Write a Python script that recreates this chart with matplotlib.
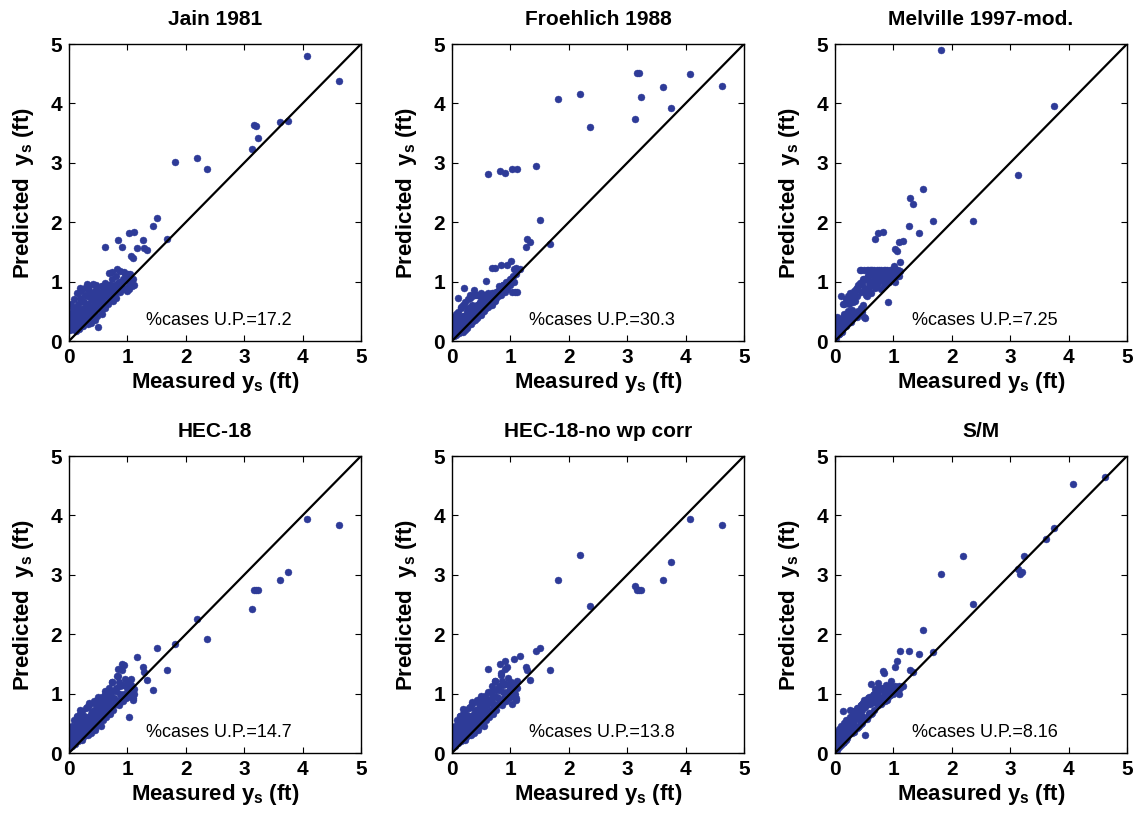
import numpy as np
import matplotlib
matplotlib.use("Agg")
import matplotlib.pyplot as plt

plt.rcParams["font.family"] = ["Liberation Sans", "DejaVu Sans"]
plt.rcParams["mathtext.fontset"] = "custom"
plt.rcParams["mathtext.rm"] = "Liberation Sans:bold"
plt.rcParams["mathtext.it"] = "Liberation Sans:bold"
plt.rcParams["mathtext.bf"] = "Liberation Sans:bold"

nan = np.nan

# Measured scour depth (ft), shared by all six methods
measured = [
    0.01, 0.02, 0.03, 0.03, 0.05, 0.06, 0.07, 0.08, 0.09, 0.10,
    0.11, 0.12, 0.13, 0.14, 0.15, 0.16, 0.17, 0.18, 0.19, 0.20,
    0.21, 0.22, 0.23, 0.24, 0.25, 0.26, 0.27, 0.28, 0.29, 0.30,
    0.31, 0.32, 0.33, 0.34, 0.35, 0.36, 0.37, 0.38, 0.39, 0.40,
    0.41, 0.42, 0.43, 0.44, 0.45, 0.46, 0.47, 0.48, 0.49, 0.50,
    0.51, 0.52, 0.54, 0.55, 0.56, 0.57, 0.58, 0.59, 0.60, 0.62,
    0.63, 0.64, 0.66, 0.67, 0.69, 0.70, 0.72, 0.73, 0.75, 0.76,
    0.78, 0.79, 0.81, 0.83, 0.85, 0.86, 0.88, 0.89, 0.92, 0.93,
    0.95, 0.97, 0.99, 1.00, 1.02, 1.04, 1.06, 1.08, 1.09, 1.11,
    0.61, 0.68, 0.74, 0.82, 0.84, 0.91, 0.94, 1.01, 1.03, 1.07,
    1.10, 1.12, 1.16, 1.26, 1.28, 1.34, 1.44,
    1.50, 1.67, 1.81, 2.20, 2.36, 3.14, 3.17, 3.20, 3.24, 3.61,
    3.75, 4.08, 4.62,
    0.02, 0.04, 0.05, 0.07, 0.09, 0.11, 0.13, 0.15, 0.17, 0.19,
    0.21, 0.23, 0.25, 0.27, 0.29, 0.31, 0.33, 0.35, 0.37, 0.39,
    0.42, 0.44, 0.46, 0.48, 0.50, 0.53, 0.56, 0.59, 0.62, 0.65,
    0.68, 0.71, 0.74, 0.77, 0.80, 0.84, 0.87, 0.91, 0.96, 1.03,
]

pred_jain = [
    0.25, 0.18, 0.35, 0.42, 0.22, 0.30, 0.55, 0.20, 0.38, 0.28,
    0.55, 0.16, 0.33, 0.45, 0.26, 0.62, 0.20, 0.40, 0.90, 0.50,
    0.30, 0.68, 0.42, 0.25, 0.55, 0.36, 0.78, 0.48, 0.33, 0.96,
    0.60, 0.28, 0.45, 0.85, 0.52, 0.38, 0.70, 0.30, 0.58, 0.80,
    0.96, 0.46, 0.65, 0.35, 0.75, 0.55, 0.88, 0.42, 0.68, 0.24,
    0.60, 0.82, 0.50, 0.72, 0.92, 0.45, 0.66, 0.78, 0.85, 0.55,
    0.75, 0.90, 0.62, 0.82, 0.70, 0.95, 0.78, 0.88, 0.68, 0.85,
    0.80, 0.95, 0.72, 0.90, 0.85, 1.00, 0.82, 0.93, 0.88, 1.05,
    0.90, 1.02, 0.85, 1.08, 0.95, 1.12, 1.00, 0.92, 1.05, 0.95,
    1.59, 1.15, 1.17, 1.22, 1.70, 1.59, 1.17, 1.13, 1.81, 1.43,
    1.39, 1.84, 1.56, 1.70, 1.56, 1.53, 1.94,
    2.07, 1.71, 3.01, 3.08, 2.90, 3.23, 3.64, 3.62, 3.41, 3.69,
    3.71, 4.79, 4.38,
    0.45, 0.62, 0.28, 0.50, 0.70, 0.40, 0.80, 0.58, 0.35, 0.72,
    0.85, 0.50, 0.65, 0.90, 0.42, 0.75, 0.62, 0.92, 0.48, 0.70,
    0.82, 0.58, 0.94, 0.66, 0.80, 0.70, 0.92, 0.62, 0.98, 0.76,
    0.95, 0.82, 1.05, 0.92, 1.10, 0.98, 1.18, 1.00, 1.12, 0.88,
]

pred_froehlich = [
    0.12, 0.20, 0.08, 0.30, 0.15, 0.25, 0.10, 0.35, 0.18, 0.22,
    0.73, 0.14, 0.28, 0.40, 0.57, 0.20, 0.32, 0.15, 0.42, 0.26,
    0.90, 0.18, 0.35, 0.28, 0.45, 0.22, 0.38, 0.55, 0.30, 0.78,
    0.36, 0.48, 0.28, 0.42, 0.60, 0.33, 0.86, 0.40, 0.52, 0.35,
    0.45, 0.78, 0.38, 0.55, 0.42, 0.62, 0.50, 0.75, 0.44, 0.58,
    0.48, 0.70, 0.55, 0.50, 0.78, 0.62, 1.01, 0.55, 0.68, 0.58,
    0.78, 0.60, 0.72, 0.65, 0.80, 0.66, 0.75, 0.70, 0.82, 0.72,
    0.76, 0.85, 0.78, 0.80, 0.90, 0.82, 0.95, 0.85, 0.88, 1.00,
    0.90, 0.98, 0.95, 1.05, 0.82, 1.10, 1.00, 0.82, 1.12, 0.82,
    2.81, 1.23, 1.23, 2.87, 1.28, 2.83, 1.28, 1.35, 2.90, 1.21,
    1.23, 2.90, 1.21, 1.58, 1.71, 1.66, 2.94,
    2.04, 1.64, 4.07, 4.16, 3.60, 3.73, 4.52, 4.52, 4.11, 4.27,
    3.93, 4.49, 4.29,
    0.30, 0.40, 0.22, 0.45, 0.35, 0.48, 0.25, 0.55, 0.38, 0.60,
    0.42, 0.65, 0.50, 0.70, 0.40, 0.72, 0.58, 0.76, 0.48, 0.78,
    0.60, 0.78, 0.52, 0.66, 0.80, 0.62, 0.78, 0.70, 0.80, 0.76,
    0.60, 0.80, 0.68, 0.75, 0.92, 0.78, 0.95, 0.82, 0.98, 1.06,
]

pred_melville = [
    0.05, 0.30, 0.15, 0.40, 0.20, 0.12, 0.35, 0.18, 0.28, 0.22,
    0.76, 0.15, 0.63, 0.28, 0.42, 0.62, 0.32, 0.25, 0.70, 0.45,
    0.35, 0.75, 0.50, 0.62, 0.38, 0.78, 0.32, 0.70, 0.52, 0.65,
    0.38, 0.80, 0.42, 0.68, 0.45, 0.88, 0.40, 0.75, 0.48, 0.95,
    0.45, 1.20, 0.50, 0.82, 1.20, 0.48, 0.95, 1.05, 0.41, 1.20,
    0.39, 0.88, 1.20, 0.75, 1.10, 1.20, 0.85, 1.00, 1.20, 0.80,
    1.20, 0.95, 1.05, 1.20, 0.90, 1.15, 1.20, 0.98, 1.08, 1.20,
    0.88, 1.20, 1.02, 1.12, 1.20, 0.95, 1.10, 1.20, 1.00, 1.15,
    1.20, 1.05, 1.12, 1.20, 1.08, 1.20, 1.15, 1.20, 1.10, 1.18,
    1.20, 1.71, 1.82, 1.84, 1.20, 0.65, 1.15, 1.27, 1.55, 1.52,
    1.66, 1.33, 1.68, 1.93, 2.40, 2.31, 1.82,
    2.56, 2.02, 4.90, nan, 2.02, 2.79, nan, nan, nan, nan,
    3.96, nan, nan,
    0.08, 0.25, 0.38, 0.12, 0.22, 0.35, 0.30, 0.45, 0.28, 0.40,
    0.70, 0.35, 0.80, 0.38, 0.72, 0.42, 0.85, 0.45, 0.90, 0.50,
    0.98, 0.55, 1.00, 0.60, 1.05, 0.78, 1.10, 0.92, 1.00, 1.12,
    1.05, 0.95, 1.10, 1.02, 1.15, 0.92, 1.05, 1.12, 1.02, 1.00,
]

pred_hec18 = [
    0.10, 0.20, 0.15, 0.30, 0.12, 0.25, 0.40, 0.18, 0.32, 0.22,
    0.15, 0.45, 0.28, 0.62, 0.20, 0.35, 0.50, 0.25, 0.73, 0.30,
    0.40, 0.22, 0.55, 0.35, 0.28, 0.62, 0.45, 0.30, 0.50, 0.38,
    0.77, 0.42, 0.30, 0.55, 0.85, 0.45, 0.33, 0.65, 0.50, 0.42,
    0.60, 0.88, 0.48, 0.38, 0.70, 0.55, 0.45, 0.80, 0.62, 0.90,
    0.52, 0.72, 0.46, 0.85, 0.60, 0.95, 0.68, 0.55, 0.78, 0.65,
    0.88, 0.60, 1.00, 0.72, 0.85, 0.65, 0.95, 0.78, 1.05, 0.72,
    0.90, 0.82, 1.10, 0.85, 1.20, 0.80, 1.00, 0.92, 1.15, 0.88,
    1.00, 0.92, 1.10, 0.95, 1.05, 0.98, 1.15, 1.00, 0.90, 1.08,
    1.05, 0.95, 1.20, 1.30, 1.41, 1.49, 1.48, 1.20, 0.61, 1.24,
    0.93, 1.00, 1.62, 1.44, 1.36, 1.23, 1.06,
    1.76, 1.40, 1.83, 2.26, 1.92, 2.43, 2.74, 2.74, 2.74, 2.92,
    3.04, 3.94, 3.83,
    0.25, 0.35, 0.45, 0.20, 0.55, 0.30, 0.60, 0.40, 0.50, 0.65,
    0.35, 0.70, 0.45, 0.55, 0.75, 0.40, 0.60, 0.80, 0.50, 0.70,
    0.85, 0.55, 0.75, 0.62, 0.95, 0.70, 0.85, 0.78, 1.00, 0.88,
    1.10, 0.80, 1.20, 0.92, 1.05, 1.30, 1.12, 1.40, 1.25, 1.15,
]

pred_hec18_nowp = [
    0.10, 0.22, 0.15, 0.32, 0.12, 0.26, 0.40, 0.18, 0.34, 0.22,
    0.16, 0.46, 0.28, 0.62, 0.20, 0.36, 0.52, 0.25, 0.74, 0.30,
    0.42, 0.22, 0.56, 0.35, 0.28, 0.64, 0.45, 0.30, 0.52, 0.38,
    0.78, 0.42, 0.30, 0.56, 0.86, 0.46, 0.33, 0.66, 0.50, 0.42,
    0.62, 0.90, 0.48, 0.38, 0.72, 0.55, 0.45, 0.82, 0.62, 0.92,
    0.52, 0.74, 0.46, 0.86, 0.60, 0.96, 0.70, 0.55, 0.80, 0.65,
    0.90, 0.60, 1.02, 0.72, 0.86, 0.65, 0.96, 0.78, 1.06, 0.72,
    0.92, 0.82, 1.12, 0.85, 1.22, 0.80, 1.02, 0.92, 1.16, 0.88,
    1.02, 0.92, 1.10, 0.95, 1.06, 0.98, 1.16, 1.00, 0.90, 1.10,
    1.41, 0.95, 1.21, 1.50, 1.35, 1.55, 1.45, 1.20, 0.83, 1.59,
    0.93, 1.21, 1.64, 1.44, 1.39, 1.23, 1.71,
    1.76, 1.40, 2.92, 3.33, 2.47, 2.81, 2.75, 2.75, 2.75, 2.92,
    3.21, 3.94, 3.83,
    0.26, 0.36, 0.46, 0.22, 0.56, 0.32, 0.62, 0.40, 0.52, 0.66,
    0.36, 0.72, 0.46, 0.56, 0.76, 0.42, 0.62, 0.82, 0.50, 0.72,
    0.86, 0.56, 0.76, 0.64, 0.96, 0.72, 0.86, 0.80, 1.02, 0.90,
    1.12, 0.82, 1.22, 0.94, 1.06, 1.32, 1.14, 1.42, 1.26, 1.16,
]

pred_sm = [
    0.08, 0.15, 0.05, 0.22, 0.12, 0.30, 0.10, 0.18, 0.25, 0.14,
    0.20, 0.35, 0.16, 0.71, 0.25, 0.19, 0.40, 0.22, 0.30, 0.28,
    0.26, 0.45, 0.30, 0.55, 0.72, 0.35, 0.60, 0.50, 0.34, 0.62,
    0.38, 0.65, 0.36, 0.45, 0.70, 0.62, 0.42, 0.75, 0.44, 0.58,
    0.45, 0.72, 0.70, 0.48, 0.80, 0.50, 0.62, 0.85, 0.90, 0.58,
    0.31, 0.78, 0.58, 0.88, 0.62, 0.92, 0.68, 0.85, 0.82, 0.66,
    0.95, 0.68, 1.00, 0.72, 0.98, 0.85, 1.05, 0.80, 1.10, 0.90,
    0.82, 0.85, 0.86, 0.92, 0.88, 0.95, 0.92, 0.90, 0.96, 1.00,
    0.98, 1.02, 1.00, 1.05, 1.05, 1.08, 1.10, 1.06, 1.12, 1.10,
    1.17, 1.07, 1.18, 1.38, 1.34, 1.05, 1.15, 1.10, 1.45, 1.55,
    1.00, 1.71, 1.12, 1.71, 1.39, 1.37, 1.66,
    2.07, 1.70, 3.02, 3.31, 2.51, 3.09, 3.02, 3.05, 3.31, 3.61,
    3.79, 4.53, 4.65,
    0.25, 0.35, 0.20, 0.40, 0.30, 0.45, 0.28, 0.50, 0.42, 0.55,
    0.48, 0.38, 0.60, 0.45, 0.62, 0.50, 0.70, 0.58, 0.65, 0.75,
    0.68, 0.80, 0.72, 0.85, 0.78, 0.88, 0.82, 0.95, 0.85, 0.98,
    0.92, 1.00, 1.05, 0.95, 1.10, 1.02, 1.15, 1.08, 1.22, 1.12,
]

titles = ["Jain 1981", "Froehlich 1988", "Melville 1997-mod.",
          "HEC-18", "HEC-18-no wp corr", "S/M"]
under_pred = ["17.2", "30.3", "7.25", "14.7", "13.8", "8.16"]
predictions = [pred_jain, pred_froehlich, pred_melville,
               pred_hec18, pred_hec18_nowp, pred_sm]
ticks = [0, 1, 2, 3, 4, 5]

W, H = 1137, 813
fig = plt.figure(figsize=(W / 100, H / 100), dpi=100)

lefts = [69, 452, 835]
tops = [44, 456]
ax_w, ax_h = 292, 297

dot_color = "#2E3B98"

for i, (title, up, pred) in enumerate(zip(titles, under_pred, predictions)):
    row, col = divmod(i, 3)
    l = lefts[col]
    t = tops[row]
    ax = fig.add_axes([l / W, 1 - (t + ax_h) / H, ax_w / W, ax_h / H])
    ax.plot(measured, pred, linestyle="none", marker="o", markersize=5.0,
            markerfacecolor=dot_color, markeredgecolor=dot_color,
            markeredgewidth=0.3, zorder=2)
    ax.plot([0, 5], [0, 5], color="black", linewidth=1.6, zorder=3)
    ax.set_xlim(0, 5)
    ax.set_ylim(0, 5)
    ax.set_xticks(ticks)
    ax.set_yticks(ticks)
    ax.tick_params(axis="both", direction="in", length=4, width=0.8,
                   top=True, right=True, labelsize=15)
    ax.tick_params(axis="x", pad=5)
    ax.tick_params(axis="y", pad=5)
    for lab in ax.get_xticklabels() + ax.get_yticklabels():
        lab.set_fontweight("bold")
    for sp in ax.spines.values():
        sp.set_linewidth(1.0)
    ax.set_title(title, fontsize=15, fontweight="bold", pad=14)
    ax.set_xlabel(r"Measured $y_s$ (ft)", fontsize=16, fontweight="bold",
                  labelpad=2)
    ax.set_ylabel(r"Predicted  $y_s$ (ft)", fontsize=16, fontweight="bold",
                  labelpad=10)
    ax.text(2.57, 0.34, "%cases U.P.=" + up, fontsize=13, ha="center",
            va="center", zorder=4)

fig.savefig("out.png", dpi=100)
